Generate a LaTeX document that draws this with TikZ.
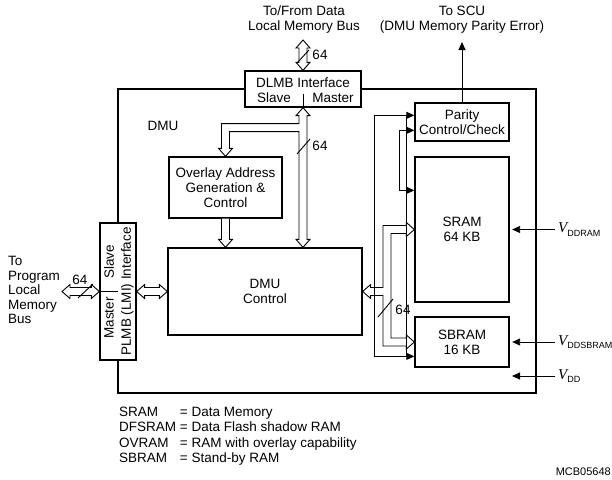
\documentclass[tikz,border=0pt]{standalone}
\usepackage{fontspec}
\setmainfont{Liberation Sans}
\newfontfamily\vfont{Liberation Serif}
\usetikzlibrary{arrows.meta,calc}

% hollow double-headed bus, vertical (#1 top end, #2 bottom end)
\newcommand\busvert[2]{%
  \draw[bus] let \p1=(#1),\p2=(#2) in
    (\x1,\y1) -- (\x1+7pt,\y1-8pt) -- (\x1+4pt,\y1-8pt) -- (\x1+4pt,\y2+8pt)
    -- (\x1+7pt,\y2+8pt) -- (\x1,\y2) -- (\x1-7pt,\y2+8pt) -- (\x1-4pt,\y2+8pt)
    -- (\x1-4pt,\y1-8pt) -- (\x1-7pt,\y1-8pt) -- cycle;}
% hollow double-headed bus, horizontal (#1 left end, #2 right end)
\newcommand\bushoriz[2]{%
  \draw[bus] let \p1=(#1),\p2=(#2) in
    (\x1,\y1) -- (\x1+8pt,\y1+7pt) -- (\x1+8pt,\y1+4pt) -- (\x2-8pt,\y1+4pt)
    -- (\x2-8pt,\y1+7pt) -- (\x2,\y1) -- (\x2-8pt,\y1-7pt) -- (\x2-8pt,\y1-4pt)
    -- (\x1+8pt,\y1-4pt) -- (\x1+8pt,\y1-7pt) -- cycle;}

\begin{document}
\begin{tikzpicture}[x=1pt,y=-1pt,
  font=\fontsize{13.5}{15}\selectfont,
  frame/.style={draw,line width=1.3pt,inner sep=0pt},
  box/.style={draw,line width=1.3pt,fill=white,inner sep=0pt,align=center},
  bus/.style={draw,line width=0.9pt,fill=white,line join=miter},
  wire/.style={line width=0.9pt},
  sig/.style={wire,-{Triangle[length=8pt,width=7pt]}},
  sigboth/.style={wire,{Triangle[length=8pt,width=7pt]}-{Triangle[length=8pt,width=7pt]}},
  lbl/.style={inner sep=0pt,align=center},
  vsub/.style={anchor=west,inner sep=0pt}]

\useasboundingbox (0,0) rectangle (612,479);

% DMU outline
\node[frame,minimum width=418pt,minimum height=304pt] (dmu) at (327,241) {};
\node[lbl] at (163,126) {DMU};

% blocks
\node[box,minimum width=116pt,minimum height=36pt] (dlmb) at (303,89) {};
\node[lbl,anchor=base] at (303,87) {DLMB Interface};
\node[lbl,anchor=base] at (274,102) {Slave};
\node[lbl,anchor=base] at (333,102) {Master};
\draw[wire] (dlmb.south) -- ++(0,-14);

\node[box,minimum width=36pt,minimum height=137pt] (plmb) at (118,291.5) {};
\node[lbl,rotate=90] at (109,262) {Slave};
\node[lbl,rotate=90] at (109,318) {Master};
\node[lbl,rotate=90] at (127.5,291.5) {PLMB (LMI) Interface};
\draw[wire] (plmb.west) -- (plmb.center);

\node[box,minimum width=113pt,minimum height=61pt] (ovl) at (225.5,187.5)
  {Overlay Address\\Generation \&\\Control};
\node[box,minimum width=194pt,minimum height=87pt] (ctrl) at (265,291.5)
  {DMU\\Control};
\node[box,minimum width=94pt,minimum height=38pt] (parity) at (462,122)
  {Parity\\Control/Check};
\node[box,minimum width=94pt,minimum height=145pt] (sram) at (462,229.5)
  {SRAM\\64 KB};
\node[box,minimum width=94pt,minimum height=50pt] (sbram) at (462,342)
  {SBRAM\\16 KB};

% outside texts
\node[lbl] at (304,19.5) {To/From Data\\Local Memory Bus};
\node[lbl] at (462,19.5) {To SCU\\(DMU Memory Parity Error)};
\node[lbl,align=left,anchor=west,font=\fontsize{13.5}{14.5}\selectfont]
  at (8,290) {To\\Program\\Local\\Memory\\Bus};

% end points outside the blocks
\coordinate (dtop) at (303,40);
\coordinate (pext) at (62,291.5);
\coordinate (scu) at (462,42);
\coordinate (rbx) at (387,291.5);
\coordinate (vram) at (555,229.5);
\coordinate (vsb) at (555,342);
\coordinate (vdd) at (555,376);
\coordinate (vddend) at (512,376);

% data local memory bus
\busvert{dtop}{dlmb.north}
\draw[wire] (297,63) -- (309,50);
\node[lbl] at (320,55) {64};

% DLMB to DMU control, with branch to overlay block
\draw[bus] let \p1=(dlmb.south),\p2=(ctrl.north -| dlmb.south),\p3=(ovl.north) in
  (\x1,\y1) -- (\x1+7pt,\y1-8pt) -- (\x1+4pt,\y1-8pt) -- (\x1+4pt,\y2+8pt)
  -- (\x1+7pt,\y2+8pt) -- (\x2,\y2) -- (\x1-7pt,\y2+8pt) -- (\x1-4pt,\y2+8pt)
  -- (\x1-4pt,\y1-24pt) -- (\x3+4pt,\y1-24pt) -- (\x3+4pt,\y3+8pt)
  -- (\x3+7pt,\y3+8pt) -- (\x3,\y3) -- (\x3-7pt,\y3+8pt) -- (\x3-4pt,\y3+8pt)
  -- (\x3-4pt,\y1-16pt) -- (\x1-4pt,\y1-16pt) -- (\x1-4pt,\y1-8pt)
  -- (\x1-7pt,\y1-8pt) -- cycle;
\draw[wire] (297,154) -- (310,139);
\node[lbl] at (320,146) {64};

% overlay block to DMU control
\draw[bus] let \p1=(ovl.south),\p2=(ctrl.north -| ovl.south) in
  (\x1-4pt,\y1) -- (\x1-4pt,\y2+8pt) -- (\x1-7pt,\y2+8pt) -- (\x2,\y2)
  -- (\x1+7pt,\y2+8pt) -- (\x1+4pt,\y2+8pt) -- (\x1+4pt,\y1);

% program local memory bus
\bushoriz{pext}{plmb.west}
\draw[wire] (78,298) -- (93,284);
\node[lbl] at (80,280) {64};
\bushoriz{plmb.east}{ctrl.west}

% DMU control to SRAM and SBRAM
\draw[bus] let \p1=(ctrl.east),\p2=(sram.west),\p3=(sbram.west),\p4=(rbx) in
  (\x1,\y1) -- (\x1+8pt,\y1+7pt) -- (\x1+8pt,\y1+4pt) -- (\x4-4pt,\y1+4pt)
  -- (\x4-4pt,\y2+4pt) -- (\x2-8pt,\y2+4pt) -- (\x2-8pt,\y2+7pt) -- (\x2,\y2)
  -- (\x2-8pt,\y2-7pt) -- (\x2-8pt,\y2-4pt) -- (\x4+4pt,\y2-4pt)
  -- (\x4+4pt,\y3+4pt) -- (\x3-8pt,\y3+4pt) -- (\x3-8pt,\y3+7pt) -- (\x3,\y3)
  -- (\x3-8pt,\y3-7pt) -- (\x3-8pt,\y3-4pt) -- (\x4-4pt,\y3-4pt)
  -- (\x4-4pt,\y1-4pt) -- (\x1+8pt,\y1-4pt) -- (\x1+8pt,\y1-7pt) -- cycle;
\draw[wire] (378,317) -- (393,299);
\node[lbl] at (403,310) {64};

% parity check connections
\coordinate (p1) at ($(parity.north west)+(0,13)$);
\coordinate (p2) at ($(parity.north west)+(0,28)$);
\coordinate (s1) at ($(sbram.north west)+(0,40)$);
\coordinate (r2) at ($(sram.north west)+(0,34)$);
\draw[sigboth] (p1) -- ++(-40,0) |- (s1);
\draw[wire] ($(p1)+(-8,0)$) -- ($(s1)+(-8,0)$);
\draw[sigboth] (p2) -- ++(-15,0) |- (r2);
\draw[sig] (parity.north) -- (scu);

% supplies
\draw[sig] (vram) -- ($(sram.east)+(2.5,0)$);
\draw[sig] (vsb) -- ($(sbram.east)+(2.5,0)$);
\draw[sig] (vdd) -- (vddend);
\node[vsub] at (558,229.5) {{\vfont\itshape\fontsize{15}{15}\selectfont V}\raisebox{-3.5pt}{\fontsize{9}{9}\selectfont DDRAM}};
\node[vsub] at (558,342) {{\vfont\itshape\fontsize{15}{15}\selectfont V}\raisebox{-3.5pt}{\fontsize{9}{9}\selectfont DDSBRAM}};
\node[vsub] at (558,376) {{\vfont\itshape\fontsize{15}{15}\selectfont V}\raisebox{-3.5pt}{\fontsize{9}{9}\selectfont DD}};

% legend
\node[lbl,anchor=west] at (119,436.5) {\renewcommand\arraystretch{1.02}%
  \begin{tabular}{@{}l@{\ }l@{}}
  SRAM & = Data Memory\\
  DFSRAM & = Data Flash shadow RAM\\
  OVRAM & = RAM with overlay capability\\
  SBRAM & = Stand-by RAM
  \end{tabular}};
\node[lbl,anchor=east,font=\fontsize{11}{11}\selectfont] at (611,472) {MCB05648};
\end{tikzpicture}
\end{document}
